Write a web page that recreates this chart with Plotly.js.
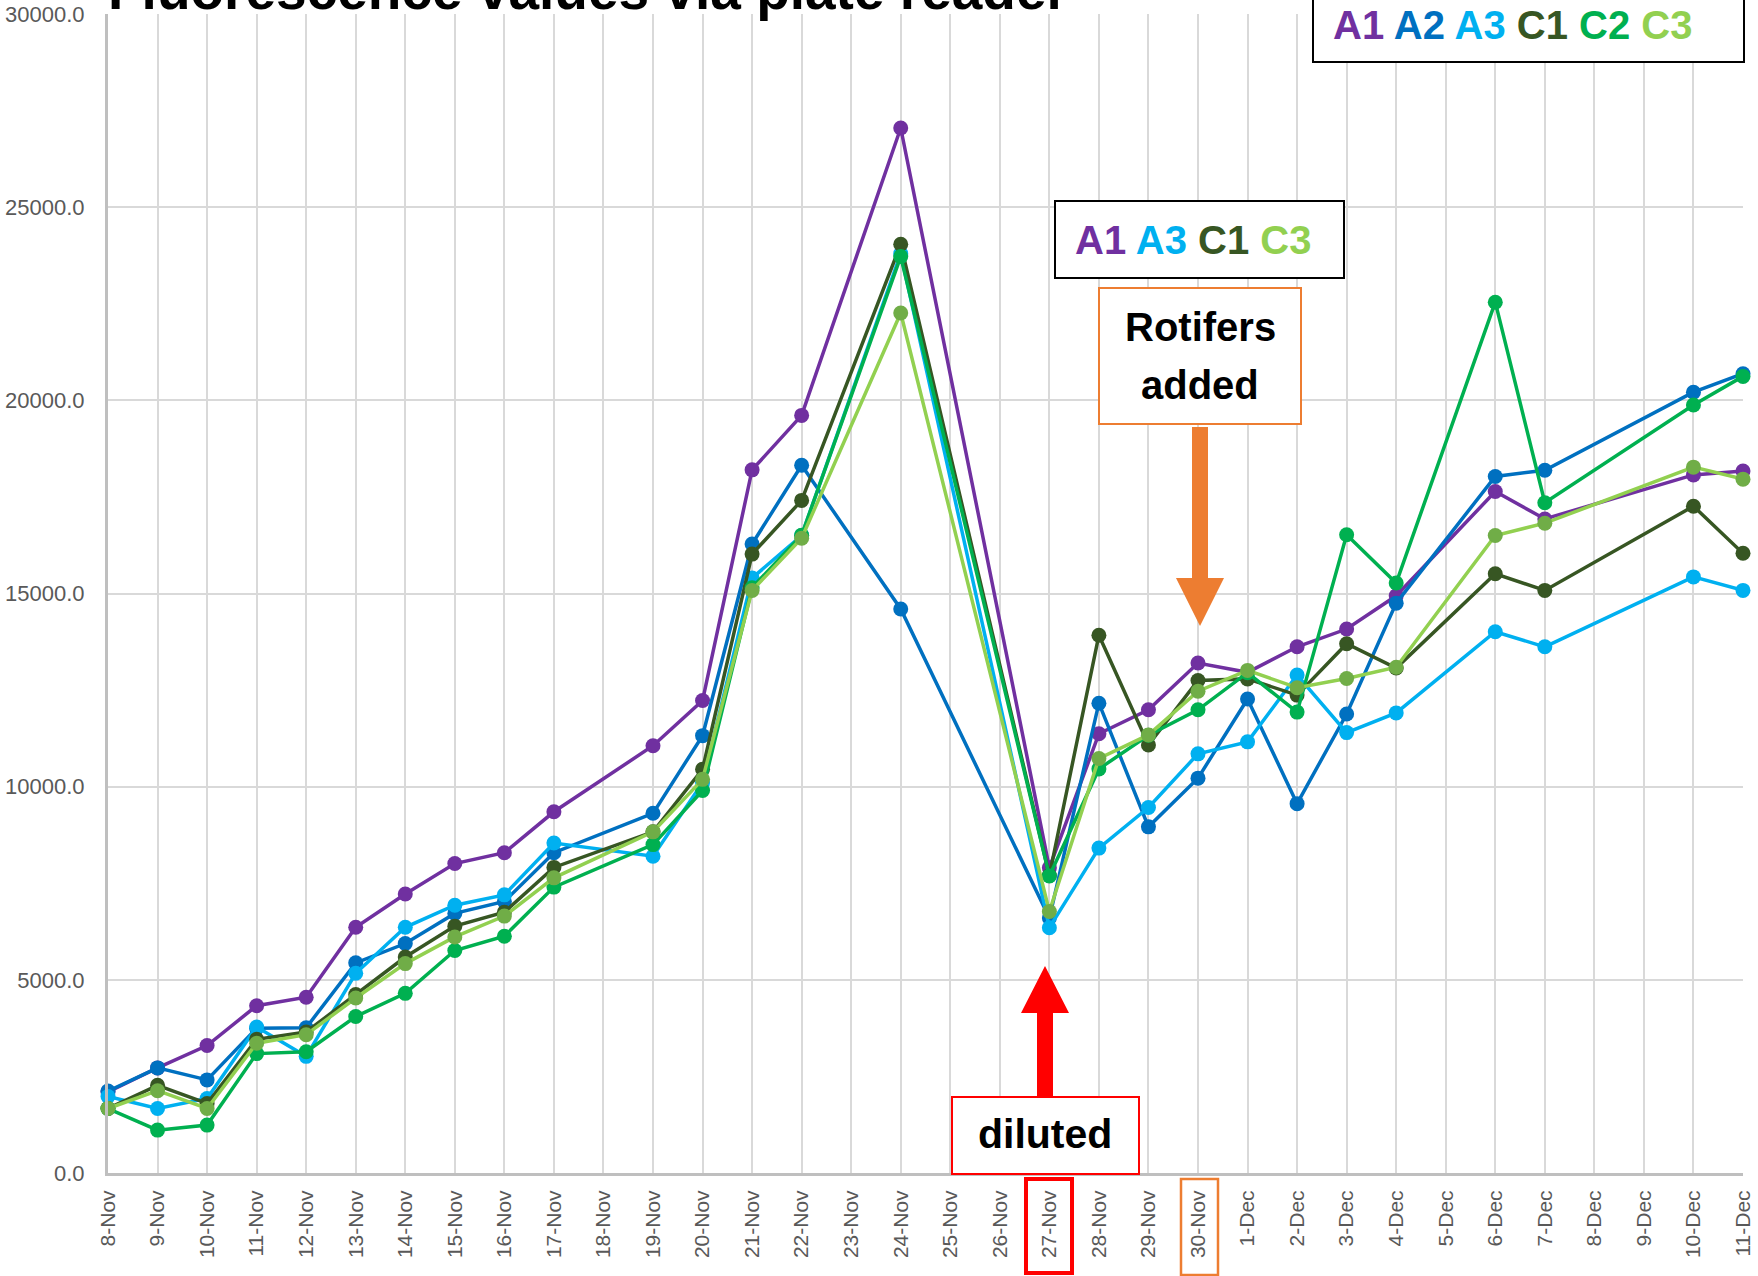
<!DOCTYPE html>
<html>
<head>
<meta charset="utf-8">
<script src="https://cdn.plot.ly/plotly-3.0.1.min.js"></script>
<style>
  html, body { margin: 0; padding: 0; background: #ffffff; }
  #chart { width: 1758px; height: 1276px; }
</style>
</head>
<body>
<div id="chart"></div>
<script>
// ---------------- DATA ----------------
const dates = ['2023-11-08','2023-11-09','2023-11-10','2023-11-11','2023-11-12','2023-11-13','2023-11-14',
  '2023-11-15','2023-11-16','2023-11-17','2023-11-19','2023-11-20','2023-11-21','2023-11-22','2023-11-24',
  '2023-11-27','2023-11-28','2023-11-29','2023-11-30','2023-12-01','2023-12-02','2023-12-03','2023-12-04',
  '2023-12-06','2023-12-07','2023-12-10','2023-12-11'];

const A1 = [2100, 2720, 3300, 4330, 4550, 6360, 7220, 8010, 8290, 9350, 11060, 12230, 18200, 19610, 27050,
  7900, 11370, 11990, 13200, 12960, 13620, 14080, 14940, 17640, 16930, 18070, 18170];
const A2 = [2120, 2720, 2410, 3750, 3760, 5440, 5940, 6720, 7030, 8290, 9310, 11320, 16280, 18320, 14600,
  6600, 12160, 8960, 10220, 12270, 9560, 11880, 14750, 18030, 18190, 20210, 20690];
const A3 = [1980, 1670, 1930, 3780, 3020, 5170, 6360, 6930, 7200, 8540, 8200, 10100, 15400, 16500, 23800,
  6350, 8410, 9460, 10850, 11160, 12890, 11400, 11910, 14010, 13620, 15430, 15080];
const C1 = [1670, 2270, 1800, 3460, 3650, 4620, 5590, 6390, 6750, 7910, 8830, 10450, 16020, 17410, 24040,
  7700, 13920, 11080, 12750, 12790, 12370, 13700, 13070, 15510, 15080, 17260, 16040];
const C2 = [1670, 1110, 1240, 3090, 3140, 4050, 4650, 5760, 6130, 7400, 8500, 9900, 15150, 16510, 23720,
  7690, 10460, 11330, 11990, 12950, 11930, 16520, 15270, 22540, 17350, 19880, 20620];
const C3 = [1670, 2130, 1670, 3360, 3580, 4530, 5420, 6110, 6650, 7640, 8830, 10190, 15080, 16430, 22260,
  6770, 10730, 11340, 12470, 13010, 12560, 12800, 13090, 16500, 16820, 18270, 17960];

const seriesNames = ['A1', 'A2', 'A3', 'C1', 'C2', 'C3'];
const seriesValues = [A1, A2, A3, C1, C2, C3];
const lineColors = ['#7030A0', '#0070C0', '#00B0F0', '#375623', '#00B050', '#92D050'];
const markerColors = ['#7030A0', '#0070C0', '#00B0F0', '#375623', '#00B050', '#70AD47'];

const yTickStep = 5000;
const yMax = 30000;
const firstDay = '2023-11-08';
const lastDay = '2023-12-11';

const titleText = 'Fluorescence values via plate reader';
const legendAll = ['A1', 'A2', 'A3', 'C1', 'C2', 'C3'];
const legendSub = ['A1', 'A3', 'C1', 'C3'];

// ---------------- LAYOUT HELPERS ----------------
const FIG_W = 1758, FIG_H = 1276;
const L = 108, R = 1743, T = 14, B = 1173;
function px(x) { return (x - L) / (R - L); }
function py(y) { return (B - y) / (B - T); }
function pathFrom(points) {
  return 'M ' + points.map(p => px(p[0]).toFixed(5) + ',' + py(p[1]).toFixed(5)).join(' L ') + ' Z';
}
function colored(list) {
  return list.map(n => '<span style="color:' + lineColors[seriesNames.indexOf(n)] + '">' + n + '</span>').join(' ');
}

const FONT = 'Liberation Sans, Arial, sans-serif';

const traces = seriesNames.map((name, i) => ({
  type: 'scatter',
  mode: 'lines+markers',
  name: name,
  x: dates,
  y: seriesValues[i],
  line: { color: lineColors[i], width: 3.5 },
  marker: { color: markerColors[i], size: 15 },
  cliponaxis: false,
  hoverinfo: 'skip'
}));

const orange = '#ED7D31';
const red = '#FF0000';

const shapes = [
  // top-right legend box
  { type: 'rect', xref: 'paper', yref: 'paper', x0: px(1313), x1: px(1744), y0: py(62), y1: py(-6),
    line: { color: '#000000', width: 2 }, fillcolor: '#FFFFFF', layer: 'above' },
  // second legend box
  { type: 'rect', xref: 'paper', yref: 'paper', x0: px(1055), x1: px(1344), y0: py(278), y1: py(201),
    line: { color: '#000000', width: 2 }, fillcolor: '#FFFFFF', layer: 'above' },
  // Rotifers box
  { type: 'rect', xref: 'paper', yref: 'paper', x0: px(1099), x1: px(1301), y0: py(424), y1: py(288),
    line: { color: orange, width: 2 }, fillcolor: '#FFFFFF', layer: 'above' },
  // orange arrow (down)
  { type: 'path', xref: 'paper', yref: 'paper', layer: 'above',
    path: pathFrom([[1192, 427], [1208, 427], [1208, 578], [1224, 578], [1200, 626], [1176, 578], [1192, 578]]),
    fillcolor: orange, line: { width: 0 } },
  // red arrow (up)
  { type: 'path', xref: 'paper', yref: 'paper', layer: 'above',
    path: pathFrom([[1045, 966], [1069, 1013], [1053, 1013], [1053, 1097], [1037, 1097], [1037, 1013], [1021, 1013]]),
    fillcolor: red, line: { width: 0 } },
  // diluted box
  { type: 'rect', xref: 'paper', yref: 'paper', x0: px(952), x1: px(1139), y0: py(1174), y1: py(1097),
    line: { color: red, width: 2 }, fillcolor: '#FFFFFF', layer: 'above' },
  // red rectangle around 27-Nov label
  { type: 'rect', xref: 'paper', yref: 'paper', x0: px(1026), x1: px(1072), y0: py(1273), y1: py(1179),
    line: { color: red, width: 4 }, fillcolor: 'rgba(0,0,0,0)', layer: 'above' },
  // orange rectangle around 30-Nov label
  { type: 'rect', xref: 'paper', yref: 'paper', x0: px(1181), x1: px(1218), y0: py(1275), y1: py(1179),
    line: { color: orange, width: 2.5 }, fillcolor: 'rgba(0,0,0,0)', layer: 'above' }
];

const boldFont = (size, color) => ({ family: FONT, size: size, color: color || '#000000', weight: 'bold' });

const annotations = [
  { text: titleText, xref: 'paper', yref: 'paper', x: px(106), y: py(-10), xanchor: 'left', yanchor: 'middle',
    showarrow: false, font: boldFont(55) },
  { text: colored(legendAll), xref: 'paper', yref: 'paper', x: px(1513), y: py(25), xanchor: 'center', yanchor: 'middle',
    showarrow: false, font: boldFont(40) },
  { text: colored(legendSub), xref: 'paper', yref: 'paper', x: px(1193), y: py(239.5), xanchor: 'center', yanchor: 'middle',
    showarrow: false, font: boldFont(40) },
  { text: 'Rotifers', xref: 'paper', yref: 'paper', x: px(1200), y: py(327), xanchor: 'center', yanchor: 'middle',
    showarrow: false, font: boldFont(40) },
  { text: 'added', xref: 'paper', yref: 'paper', x: px(1200), y: py(385), xanchor: 'center', yanchor: 'middle',
    showarrow: false, font: boldFont(40) },
  { text: 'diluted', xref: 'paper', yref: 'paper', x: px(1045), y: py(1134), xanchor: 'center', yanchor: 'middle',
    showarrow: false, font: boldFont(41) }
];

const layout = {
  width: FIG_W,
  height: FIG_H,
  margin: { l: L, r: FIG_W - R, t: T, b: FIG_H - B, pad: 0 },
  paper_bgcolor: '#FFFFFF',
  plot_bgcolor: '#FFFFFF',
  showlegend: false,
  font: { family: FONT, color: '#595959' },
  xaxis: {
    type: 'date',
    range: [firstDay, lastDay],
    tick0: firstDay,
    dtick: 86400000,
    tickformat: '%-d-%b',
    tickangle: -90,
    tickfont: { family: FONT, size: 21, color: '#595959' },
    showgrid: true,
    gridcolor: '#D9D9D9',
    gridwidth: 2,
    showline: true,
    linecolor: '#BFBFBF',
    linewidth: 3,
    ticks: '',
    ticklabelstandoff: 6,
    zeroline: false,
    fixedrange: true
  },
  yaxis: {
    range: [0, yMax],
    dtick: yTickStep,
    tick0: 0,
    tickformat: '.1f',
    tickfont: { family: FONT, size: 22, color: '#595959' },
    showgrid: true,
    gridcolor: '#D9D9D9',
    gridwidth: 2,
    showline: true,
    linecolor: '#BFBFBF',
    linewidth: 3,
    ticks: '',
    ticklabelstandoff: 16,
    zeroline: false,
    fixedrange: true
  },
  shapes: shapes,
  annotations: annotations
};

Plotly.newPlot('chart', traces, layout, { displayModeBar: false, staticPlot: true });
</script>
</body>
</html>
